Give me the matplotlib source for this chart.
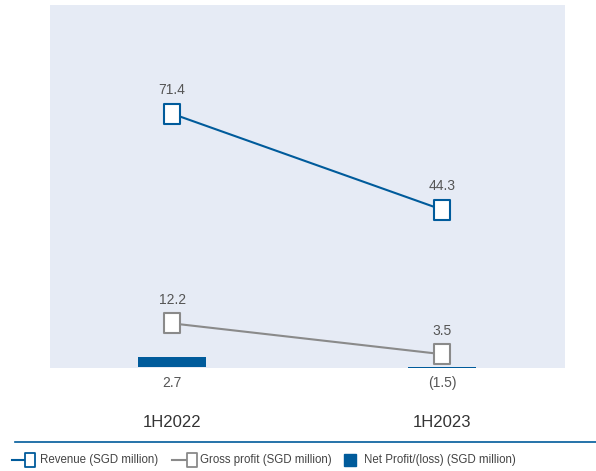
import matplotlib
matplotlib.use("Agg")
import matplotlib.pyplot as plt
from matplotlib.lines import Line2D
from matplotlib.patches import Rectangle
from matplotlib.path import Path

plt.rcParams['font.family'] = ['Liberation Sans', 'DejaVu Sans']

periods = ["1H2022", "1H2023"]
revenue = [71.4, 44.3]
gross_profit = [12.2, 3.5]
net_profit = [2.7, -1.5]
net_labels = ["2.7", "(1.5)"]
rev_labels = ["71.4", "44.3"]
gp_labels = ["12.2", "3.5"]

BLUE = "#005b9b"
GREY = "#8a8a8a"
BG = "#e6ebf5"
TXT = "#555555"

fig = plt.figure(figsize=(5.96, 4.71), dpi=100)
W, H = 596, 471
ax = fig.add_axes([50 / W, 1 - 368 / H, 515 / W, 363 / H])
ax.set_facecolor(BG)
for s in ax.spines.values():
    s.set_visible(False)
ax.set_xticks([])
ax.set_yticks([])
ax.set_xlim(-0.452, 1.455)
ax.set_ylim(-0.4, 102.1)

x = list(range(len(periods)))
rect = Path([(-0.375, -0.5), (0.375, -0.5), (0.375, 0.5), (-0.375, 0.5), (-0.375, -0.5)],
            [Path.MOVETO, Path.LINETO, Path.LINETO, Path.LINETO, Path.CLOSEPOLY])

ax.bar(x, net_profit, width=0.25, color=BLUE, zorder=2)
ax.plot(x, revenue, color=BLUE, lw=1.5, marker=rect, ms=14.5, mfc="white",
        mec=BLUE, mew=1.5, zorder=3)
ax.plot(x, gross_profit, color=GREY, lw=1.5, marker=rect, ms=14.5, mfc="white",
        mec=GREY, mew=1.5, zorder=3)

for xi, v, l in zip(x, revenue, rev_labels):
    ax.annotate(l, (xi, v), xytext=(0, 17), textcoords="offset points",
                ha="center", va="center", fontsize=10, color=TXT)
for xi, v, l in zip(x, gross_profit, gp_labels):
    ax.annotate(l, (xi, v), xytext=(0, 17), textcoords="offset points",
                ha="center", va="center", fontsize=10, color=TXT)
for xi, l in zip(x, net_labels):
    ax.annotate(l, (xi, 0), xytext=(0, -12), textcoords="offset points",
                ha="center", va="center", fontsize=10, color=TXT, annotation_clip=False)
for xi, l in zip(x, periods):
    ax.annotate(l, (xi, 0), xytext=(0, -40), textcoords="offset points",
                ha="center", va="center", fontsize=12, color="#333333", annotation_clip=False)

# separator line
fig.add_artist(Line2D([15 / W, 1], [1 - 442 / H] * 2, color=BLUE, lw=1.2))

# legend (manual)
ly = 1 - 460 / H
def leg_line(x0, x1, xm, color, label, xt):
    fig.add_artist(Line2D([x0 / W, x1 / W], [ly, ly], color=color, lw=1.5))
    fig.add_artist(Line2D([xm / W], [ly], marker=rect, ms=10, mfc="white",
                          mec=color, mew=1.3, color=color))
    fig.text(xt / W, ly, label, fontsize=8.3, color="#444444", va="center", ha="left")

leg_line(12, 26, 30, BLUE, "Revenue (SGD million)", 40)
leg_line(172, 188, 192, GREY, "Gross profit (SGD million)", 200)
fig.add_artist(Rectangle((344 / W, ly - 6 / H), 12 / W, 12 / H, color=BLUE,
                         transform=fig.transFigure))
fig.text(364 / W, ly, "Net Profit/(loss) (SGD million)", fontsize=8.3, color="#444444",
         va="center", ha="left")

fig.savefig("out.png", dpi=100)
